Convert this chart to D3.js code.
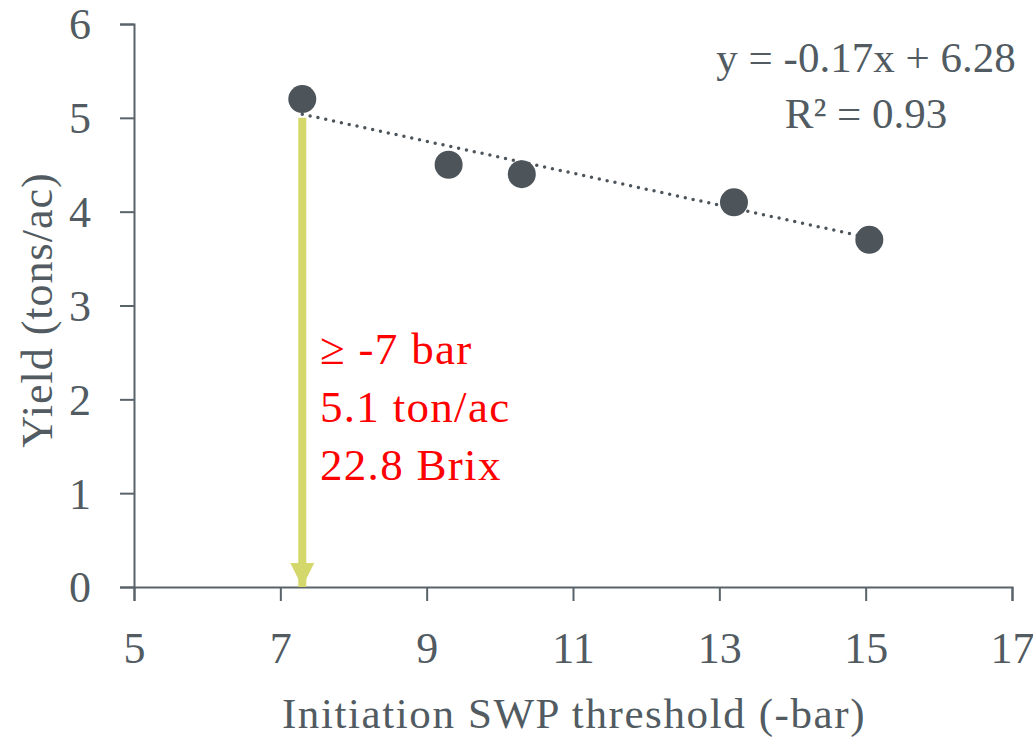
<!DOCTYPE html>
<html>
<head>
<meta charset="utf-8">
<script src="https://cdn.jsdelivr.net/npm/d3@7"></script>
<style>
	body { margin: 0; background: #fff; }
	svg text { font-family: "Liberation Serif", "DejaVu Serif", serif; }
</style>
</head>
<body>
<svg id="chart" width="1033" height="739"></svg>
<script>
// data
var swp = [7.3, 9.3, 10.3, 13.2, 15.05];
var yieldVals = [5.2, 4.5, 4.4, 4.1, 3.7];
var xTicks = [5, 7, 9, 11, 13, 15, 17];
var yTicks = [0, 1, 2, 3, 4, 5, 6];
var trend = { slope: -0.17, intercept: 6.28, r2: 0.93 };
var noteLines = ['\u2265 -7 bar', '5.1 ton/ac', '22.8 Brix'];
var arrowAt = { x: 7.3, from: 5.0, to: 0 };

var grey = '#515b61';
var svg = d3.select('#chart');

var x = d3.scaleLinear().domain([5, 17]).range([134, 1012]);
var y = d3.scaleLinear().domain([0, 6]).range([587, 24]);

var defs = svg.append('defs');
defs.append('marker')
	.attr('id', 'head')
	.attr('viewBox', '0 0 24 24')
	.attr('refX', 24).attr('refY', 12)
	.attr('markerWidth', 24).attr('markerHeight', 24)
	.attr('markerUnits', 'userSpaceOnUse')
	.attr('orient', 'auto')
	.append('path')
	.attr('d', 'M0,0 L24,12 L0,24 Z')
	.style('fill', '#d4d76a');

// axes
var xAxis = svg.append('g')
	.attr('transform', 'translate(0,' + y(0) + ')')
	.call(d3.axisBottom(x).tickValues(xTicks).tickFormat(d3.format('d'))
		.tickSize(14).tickSizeOuter(14).tickPadding(31));
var yAxis = svg.append('g')
	.attr('transform', 'translate(' + x(5) + ',0)')
	.call(d3.axisLeft(y).tickValues(yTicks).tickFormat(d3.format('d'))
		.tickSize(14).tickSizeOuter(14).tickPadding(29));

[xAxis, yAxis].forEach(function(g) {
	g.select('.domain').style('stroke', '#59636a').style('stroke-width', 2);
	g.selectAll('.tick line').style('stroke', '#59636a').style('stroke-width', 2);
	g.selectAll('.tick text')
		.style('font-family', '"Liberation Serif", serif')
		.style('font-size', '44px')
		.style('fill', grey);
});
xAxis.selectAll('.tick text').attr('dy', '0.71em');
yAxis.selectAll('.tick text').attr('dy', '0.34em');

// axis titles
svg.append('text')
	.text('Initiation SWP threshold (-bar)')
	.attr('x', 574).attr('y', 728)
	.style('text-anchor', 'middle')
	.style('font-size', '43px')
	.style('letter-spacing', '1.6px')
	.style('fill', grey);

svg.append('text')
	.text('Yield (tons/ac)')
	.attr('transform', 'translate(52,310) rotate(-90)')
	.style('text-anchor', 'middle')
	.style('font-size', '44px')
	.style('letter-spacing', '1px')
	.style('fill', grey);

// arrow
svg.append('line')
	.attr('x1', x(arrowAt.x)).attr('x2', x(arrowAt.x))
	.attr('y1', y(arrowAt.from)).attr('y2', y(arrowAt.to))
	.style('stroke', '#d4d76a')
	.style('stroke-width', 8)
	.attr('marker-end', 'url(#head)');

// trend line (dotted)
var tx = d3.extent(swp);
svg.append('line')
	.attr('x1', x(tx[0])).attr('y1', y(trend.slope * tx[0] + trend.intercept))
	.attr('x2', x(tx[1])).attr('y2', y(trend.slope * tx[1] + trend.intercept))
	.style('stroke', '#4d555b')
	.style('stroke-width', 3.5)
	.style('stroke-linecap', 'round')
	.style('stroke-dasharray', '0 8');

// points
svg.selectAll('circle.pt')
	.data(swp.map(function(d, i) { return { x: d, y: yieldVals[i] }; }))
	.enter().append('circle')
	.attr('class', 'pt')
	.attr('cx', function(d) { return x(d.x); })
	.attr('cy', function(d) { return y(d.y); })
	.attr('r', 14)
	.style('fill', '#4d555b');

// equation
var eq = svg.append('text')
	.style('text-anchor', 'middle')
	.style('font-size', '43px')
	.style('fill', grey);
eq.append('tspan').attr('x', 866).attr('y', 72)
	.text('y = ' + trend.slope.toFixed(2) + 'x + ' + trend.intercept.toFixed(2));
eq.append('tspan').attr('x', 866).attr('y', 128)
	.text('R\u00b2 = ' + trend.r2.toFixed(2));

// red note
svg.selectAll('text.note')
	.data(noteLines)
	.enter().append('text')
	.attr('class', 'note')
	.attr('x', 320)
	.attr('y', function(d, i) { return 364 + i * 58; })
	.text(function(d) { return d; })
	.style('font-size', '45px')
	.style('letter-spacing', '1.3px')
	.style('fill', '#ff0000');
</script>
</body>
</html>
